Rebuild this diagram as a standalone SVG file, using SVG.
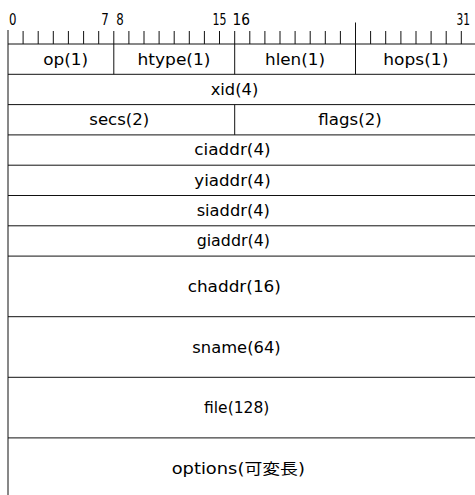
<svg xmlns="http://www.w3.org/2000/svg" width="475" height="495" viewBox="0 0 475 495">
<style>
.ln{stroke:#111;stroke-width:1;fill:none}
.t{font-family:"DejaVu Sans","Noto Sans CJK JP",sans-serif;font-size:15px;fill:#000;text-anchor:middle}
.d{font-family:"DejaVu Sans",sans-serif;font-size:15.5px;fill:#000}
</style>
<rect width="475" height="495" fill="#fff"/>
<g id="ruler">
<path class="ln" d="M8,30V495 M8,44H475
M23.1,31V44 M38.2,31V44 M53.3,31V44 M68.4,31V44 M83.6,31V44 M98.7,31V44 M113.8,31V74.3
M128.9,31V44 M144,31V44 M159.1,31V44 M174.2,31V44 M189.3,31V44 M204.4,31V44 M219.5,31V44 M234.7,31V74.3
M249.8,31V44 M264.9,31V44 M280,31V44 M295.1,31V44 M310.2,31V44 M325.3,31V44 M340.4,31V44 M355.5,22.5V74.3
M370.6,31V44 M385.7,31V44 M400.9,31V44 M416,31V44 M431.1,31V44 M446.2,31V44 M461.3,31V44"/>
<text class="d" x="9" y="24.5" textLength="7.5" lengthAdjust="spacingAndGlyphs">0</text>
<text class="d" x="101.3" y="24.5" textLength="7.5" lengthAdjust="spacingAndGlyphs">7</text>
<text class="d" x="116.3" y="24.5" textLength="7.5" lengthAdjust="spacingAndGlyphs">8</text>
<text class="d" x="212.5" y="24.5" textLength="14" lengthAdjust="spacingAndGlyphs">15</text>
<text class="d" x="232.5" y="24.5" textLength="17.5" lengthAdjust="spacingAndGlyphs">16</text>
<text class="d" x="456.5" y="24.5" textLength="13.5" lengthAdjust="spacingAndGlyphs">31</text>
</g>
<g id="rows">
<path class="ln" d="M8,74.3H475 M8,104.6H475 M8,134.9H475 M8,165.2H475 M8,195.5H475 M8,225.8H475 M8,256.1H475 M8,316.7H475 M8,377.3H475 M8,437.9H475 M234.7,104.6V134.9"/>
</g>
<g id="op"><text class="t" x="65.7" y="64.5" textLength="45" lengthAdjust="spacingAndGlyphs">op(1)</text></g>
<g id="htype"><text class="t" x="174" y="64.5" textLength="73" lengthAdjust="spacingAndGlyphs">htype(1)</text></g>
<g id="hlen"><text class="t" x="295" y="64.5" textLength="60" lengthAdjust="spacingAndGlyphs">hlen(1)</text></g>
<g id="hops"><text class="t" x="415.8" y="64.5" textLength="65" lengthAdjust="spacingAndGlyphs">hops(1)</text></g>
<g id="xid"><text class="t" x="234.5" y="94.8" textLength="47.6" lengthAdjust="spacingAndGlyphs">xid(4)</text></g>
<g id="secs"><text class="t" x="119.3" y="125.1" textLength="60" lengthAdjust="spacingAndGlyphs">secs(2)</text></g>
<g id="flags"><text class="t" x="350" y="125.1" textLength="63.4" lengthAdjust="spacingAndGlyphs">flags(2)</text></g>
<g id="ciaddr"><text class="t" x="232.5" y="155.4" textLength="76.4" lengthAdjust="spacingAndGlyphs">ciaddr(4)</text></g>
<g id="yiaddr"><text class="t" x="232.5" y="185.7" textLength="76.4" lengthAdjust="spacingAndGlyphs">yiaddr(4)</text></g>
<g id="siaddr"><text class="t" x="233.3" y="216" textLength="73.3" lengthAdjust="spacingAndGlyphs">siaddr(4)</text></g>
<g id="giaddr"><text class="t" x="233.3" y="246.3" textLength="73.3" lengthAdjust="spacingAndGlyphs">giaddr(4)</text></g>
<g id="chaddr"><text class="t" x="234.3" y="292" textLength="93.3" lengthAdjust="spacingAndGlyphs">chaddr(16)</text></g>
<g id="sname"><text class="t" x="236.5" y="352.6" textLength="88.3" lengthAdjust="spacingAndGlyphs">sname(64)</text></g>
<g id="file"><text class="t" x="236.7" y="413.2" textLength="65.3" lengthAdjust="spacingAndGlyphs">file(128)</text></g>
<g id="options"><text class="t" x="238.3" y="473.8" textLength="133.3" lengthAdjust="spacingAndGlyphs">options(可変長)</text></g>
</svg>
